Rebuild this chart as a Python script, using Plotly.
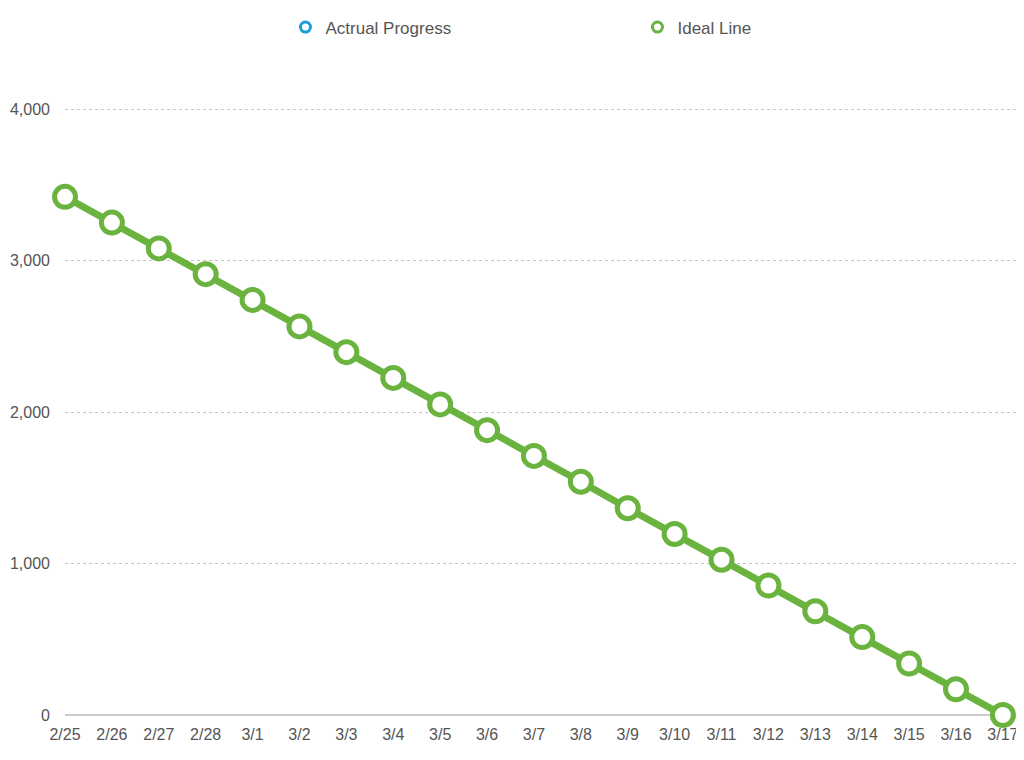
import plotly.graph_objects as go

dates = ["2/25", "2/26", "2/27", "2/28", "3/1", "3/2", "3/3", "3/4", "3/5", "3/6",
         "3/7", "3/8", "3/9", "3/10", "3/11", "3/12", "3/13", "3/14", "3/15", "3/16", "3/17"]
ideal = [3420, 3250, 3080, 2910, 2740, 2565, 2395, 2225, 2050, 1880,
         1710, 1540, 1365, 1195, 1025, 855, 685, 515, 340, 170, 0]
actual = []

GREEN = "#6ab33f"
BLUE = "#1a9ed9"
FONT = "Liberation Sans, Arial, sans-serif"

fig = go.Figure()
fig.add_trace(go.Scatter(
    x=dates, y=ideal, mode="lines+markers", showlegend=False,
    line=dict(color=GREEN, width=7),
    marker=dict(size=21, color="white", line=dict(color=GREEN, width=5)),
    cliponaxis=False,
))
# legend entries
fig.add_trace(go.Scatter(
    x=[None], y=[None], mode="markers", name="Actrual Progress",
    marker=dict(size=10, color="white", line=dict(color=BLUE, width=3)),
))
fig.add_trace(go.Scatter(
    x=[None], y=[None], mode="markers", name="Ideal Line",
    marker=dict(size=10, color="white", line=dict(color=GREEN, width=3)),
))

fig.update_layout(
    width=1016, height=752,
    margin=dict(l=57, r=0, t=91, b=45),
    paper_bgcolor="white", plot_bgcolor="white",
    font=dict(family=FONT, size=16, color="#555555"),
    legend=dict(orientation="h", xref="container", yref="container",
                x=0.2731, y=0.998, xanchor="left", yanchor="top",
                entrywidth=307, font=dict(size=17, color="#555555")),
    xaxis=dict(
        type="category", categoryorder="array", categoryarray=dates,
        range=[0, 20.45], showgrid=False, zeroline=False, automargin=False,
        showline=False, ticks="", ticklabelstandoff=8,
        tickfont=dict(size=16, color="#555555"),
    ),
    yaxis=dict(
        range=[0, 4066], tickvals=[0, 1000, 2000, 3000, 4000],
        ticktext=["0", "1,000", "2,000", "3,000", "4,000"], automargin=False,
        showgrid=True, gridcolor="#c4c4c4", griddash="dot", gridwidth=1,
        zeroline=True, zerolinecolor="#cccccc", zerolinewidth=2,
        ticks="", ticklabelstandoff=14,
        tickfont=dict(size=16, color="#555555"),
    ),
)

fig.write_html("out.html")
